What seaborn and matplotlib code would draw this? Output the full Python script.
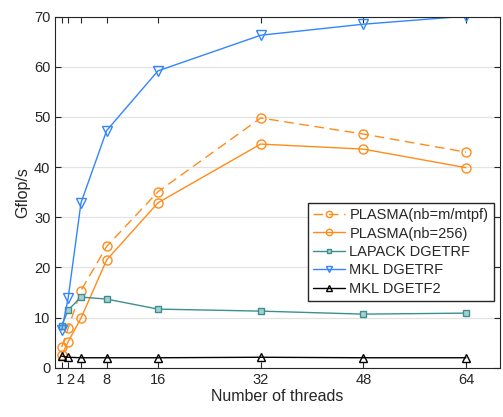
import pandas as pd
import seaborn as sns
import matplotlib
matplotlib.use('Agg')
import matplotlib.pyplot as plt
from matplotlib.transforms import ScaledTranslation

# Values
threads = [1, 2, 4, 8, 16, 32, 48, 64]
plasma_mtpf = [4.1, 7.9, 15.4, 24.2, 35.1, 49.8, 46.6, 43.0]
plasma_256 = [2.5, 5.2, 9.9, 21.5, 32.9, 44.6, 43.6, 39.9]
lapack_dgetrf = [8.4, 11.5, 14.1, 13.7, 11.7, 11.3, 10.7, 10.9]
mkl_dgetrf = [7.5, 13.9, 32.9, 47.3, 59.2, 66.3, 68.5, 70.1]
mkl_dgetf2 = [2.3, 2.1, 2.0, 2.0, 2.0, 2.1, 2.0, 2.0]

labels = ['PLASMA(nb=m/mtpf)', 'PLASMA(nb=256)', 'LAPACK DGETRF', 'MKL DGETRF', 'MKL DGETF2']
series = [plasma_mtpf, plasma_256, lapack_dgetrf, mkl_dgetrf, mkl_dgetf2]

sns.set_style('ticks')
plt.rcParams['font.family'] = ['Liberation Sans', 'DejaVu Sans']
plt.rcParams['text.color'] = '#262626'
plt.rcParams['axes.labelcolor'] = '#262626'
plt.rcParams['xtick.color'] = '#262626'
plt.rcParams['ytick.color'] = '#262626'

fig = plt.figure(figsize=(5.03, 4.17), dpi=100)
ax = fig.add_axes([0.110, 0.118, 0.884, 0.842])

styles = [
    dict(color='#ff8c1a', marker='o', ls=(0, (7, 4)), ms=6.5, mfc='none'),
    dict(color='#ff8c1a', marker='o', ls='-', ms=6.5, mfc='none'),
    dict(color='#3d8f8f', marker='s', ls='-', ms=4.5, mfc='#a9d0d0'),
    dict(color='#3385ff', marker='v', ls='-', ms=6.5, mfc='none'),
    dict(color='black', marker='^', ls='-', ms=5.5, mfc='none'),
]

for lab, vals, st in zip(labels, series, styles):
    df = pd.DataFrame({'threads': threads, 'gflops': vals})
    sns.lineplot(data=df, x='threads', y='gflops', ax=ax, label=lab,
                 color=st['color'], marker=st['marker'], linestyle=st['ls'],
                 markersize=st['ms'], markerfacecolor=st['mfc'],
                 markeredgecolor=st['color'], markeredgewidth=1.0, lw=1.0)

ax.set_xlim(0, 69.3)
ax.set_ylim(0, 70)
ax.set_xticks(threads)
ax.set_yticks(range(0, 71, 10))
ax.tick_params(direction='in', top=True, right=True, length=4, labelsize=10.5)
ax.yaxis.grid(True, color='#e3e3e3', lw=0.9)
ax.set_axisbelow(True)
for s in ax.spines.values():
    s.set_color('#262626')
    s.set_linewidth(0.8)

# the "1" and "2" labels sit almost on top of each other, nudge them apart
xlabels = ax.get_xticklabels()
xlabels[0].set_transform(xlabels[0].get_transform() + ScaledTranslation(-1.5 / 72, 0, fig.dpi_scale_trans))
xlabels[1].set_transform(xlabels[1].get_transform() + ScaledTranslation(1.5 / 72, 0, fig.dpi_scale_trans))

ax.set_xlabel('Number of threads', fontsize=11.5, labelpad=2)
ax.set_ylabel('Gflop/s', fontsize=11.5, labelpad=3)

leg = ax.legend(loc='upper left', bbox_to_anchor=(0.568, 0.469), fontsize=10.5,
                frameon=True, fancybox=False, edgecolor='#262626', framealpha=1,
                handlelength=2.2, borderpad=0.35, labelspacing=0.3, handletextpad=0.3,
                borderaxespad=0, markerscale=0.7)

fig.savefig('out.png', dpi=100)
